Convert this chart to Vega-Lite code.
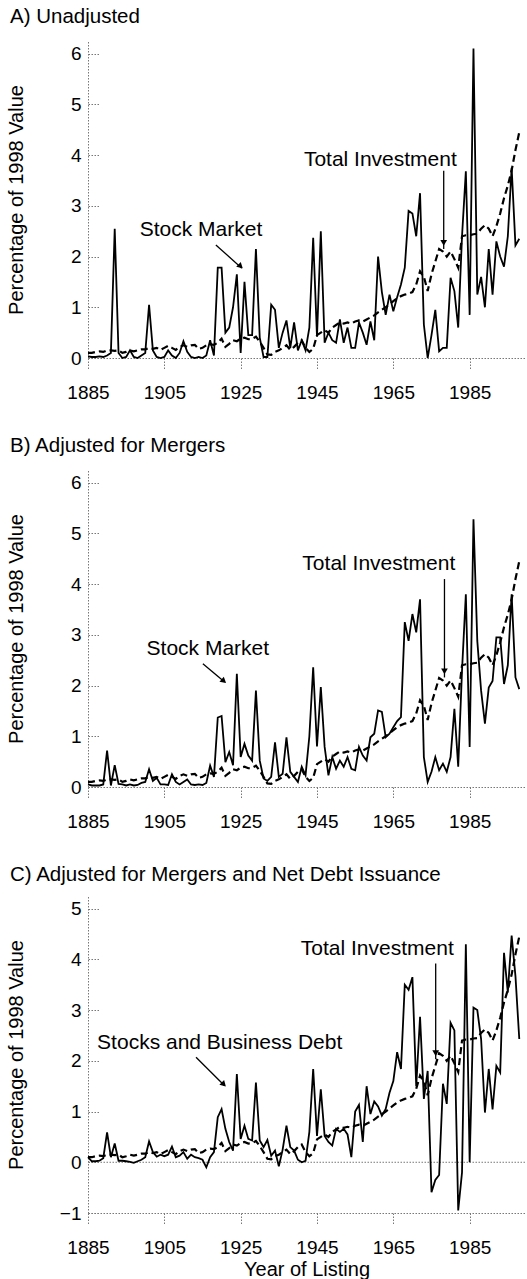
{
  "$schema": "https://vega.github.io/schema/vega-lite/v6.json",
  "padding": {"left": 6, "top": 6, "right": 0, "bottom": 0},
  "spacing": 33,
  "config": {
    "view": {"stroke": null},
    "font": "Liberation Sans",
    "axis": {"grid": false, "labelFont": "Liberation Sans", "labelFontSize": 19, "labelColor": "#000", "titleFont": "Liberation Sans", "titleFontSize": 20, "titleFontWeight": "normal", "titleColor": "#000", "domainColor": "#777", "domainDash": [1.5, 1.5], "tickColor": "#777", "tickDash": [1.5, 1.5], "domainWidth": 1, "tickWidth": 1},
    "title": {"font": "Liberation Sans", "fontSize": 20.5, "fontWeight": "normal", "anchor": "start", "frame": "group", "dx": -78, "color": "#000", "offset": 14}
  },
  "data": {"values": [
    {"year":1885,"inv":0.10,"a":0.03,"b":0.05,"c":0.10},
    {"year":1886,"inv":0.10,"a":0.02,"b":0.03,"c":0.02},
    {"year":1887,"inv":0.12,"a":0.02,"b":0.03,"c":0.02},
    {"year":1888,"inv":0.13,"a":0.03,"b":0.03,"c":0.03},
    {"year":1889,"inv":0.12,"a":0.02,"b":0.05,"c":0.08},
    {"year":1890,"inv":0.15,"a":0.05,"b":0.72,"c":0.59},
    {"year":1891,"inv":0.15,"a":0.10,"b":0.03,"c":0.10},
    {"year":1892,"inv":0.14,"a":2.55,"b":0.43,"c":0.37},
    {"year":1893,"inv":0.15,"a":0.10,"b":0.06,"c":0.03},
    {"year":1894,"inv":0.10,"a":0.00,"b":0.05,"c":0.03},
    {"year":1895,"inv":0.12,"a":0.02,"b":0.03,"c":0.02},
    {"year":1896,"inv":0.15,"a":0.15,"b":0.05,"c":0.01},
    {"year":1897,"inv":0.13,"a":0.02,"b":0.03,"c":-0.01},
    {"year":1898,"inv":0.15,"a":0.00,"b":0.04,"c":0.02},
    {"year":1899,"inv":0.17,"a":0.05,"b":0.08,"c":0.05},
    {"year":1900,"inv":0.17,"a":0.10,"b":0.10,"c":0.10},
    {"year":1901,"inv":0.20,"a":1.05,"b":0.35,"c":0.41},
    {"year":1902,"inv":0.18,"a":0.15,"b":0.12,"c":0.20},
    {"year":1903,"inv":0.20,"a":0.02,"b":0.18,"c":0.11},
    {"year":1904,"inv":0.16,"a":0.00,"b":0.05,"c":0.15},
    {"year":1905,"inv":0.20,"a":0.02,"b":0.05,"c":0.12},
    {"year":1906,"inv":0.24,"a":0.15,"b":0.04,"c":0.15},
    {"year":1907,"inv":0.20,"a":0.05,"b":0.25,"c":0.31},
    {"year":1908,"inv":0.16,"a":0.00,"b":0.10,"c":0.10},
    {"year":1909,"inv":0.22,"a":0.10,"b":0.05,"c":0.13},
    {"year":1910,"inv":0.25,"a":0.33,"b":0.10,"c":0.20},
    {"year":1911,"inv":0.22,"a":0.12,"b":0.15,"c":0.07},
    {"year":1912,"inv":0.25,"a":0.02,"b":0.05,"c":0.15},
    {"year":1913,"inv":0.26,"a":0.00,"b":0.04,"c":0.10},
    {"year":1914,"inv":0.18,"a":0.02,"b":0.05,"c":0.08},
    {"year":1915,"inv":0.20,"a":0.00,"b":0.04,"c":0.05},
    {"year":1916,"inv":0.25,"a":0.05,"b":0.08,"c":-0.10},
    {"year":1917,"inv":0.27,"a":0.35,"b":0.42,"c":0.10},
    {"year":1918,"inv":0.26,"a":0.05,"b":0.20,"c":0.20},
    {"year":1919,"inv":0.30,"a":1.78,"b":1.37,"c":0.89},
    {"year":1920,"inv":0.38,"a":1.78,"b":1.40,"c":1.05},
    {"year":1921,"inv":0.22,"a":0.50,"b":0.49,"c":0.66},
    {"year":1922,"inv":0.28,"a":0.60,"b":0.69,"c":0.40},
    {"year":1923,"inv":0.35,"a":1.00,"b":0.43,"c":0.23},
    {"year":1924,"inv":0.33,"a":1.65,"b":2.23,"c":1.74},
    {"year":1925,"inv":0.38,"a":0.10,"b":0.59,"c":0.46},
    {"year":1926,"inv":0.40,"a":1.50,"b":0.85,"c":0.72},
    {"year":1927,"inv":0.37,"a":0.45,"b":0.62,"c":0.46},
    {"year":1928,"inv":0.38,"a":0.45,"b":0.52,"c":0.43},
    {"year":1929,"inv":0.42,"a":2.15,"b":1.90,"c":1.57},
    {"year":1930,"inv":0.32,"a":0.40,"b":0.52,"c":0.43},
    {"year":1931,"inv":0.20,"a":0.02,"b":0.17,"c":0.30},
    {"year":1932,"inv":0.07,"a":0.02,"b":0.12,"c":0.44},
    {"year":1933,"inv":0.06,"a":1.05,"b":0.20,"c":0.13},
    {"year":1934,"inv":0.12,"a":0.95,"b":0.88,"c":0.23},
    {"year":1935,"inv":0.15,"a":0.20,"b":0.20,"c":-0.08},
    {"year":1936,"inv":0.20,"a":0.50,"b":0.26,"c":0.25},
    {"year":1937,"inv":0.25,"a":0.74,"b":0.98,"c":0.72},
    {"year":1938,"inv":0.16,"a":0.20,"b":0.30,"c":0.30},
    {"year":1939,"inv":0.22,"a":0.70,"b":0.20,"c":0.23},
    {"year":1940,"inv":0.30,"a":0.15,"b":0.10,"c":0.05},
    {"year":1941,"inv":0.35,"a":0.35,"b":0.40,"c":0.00},
    {"year":1942,"inv":0.20,"a":0.15,"b":0.23,"c":0.03},
    {"year":1943,"inv":0.12,"a":0.60,"b":1.00,"c":0.60},
    {"year":1944,"inv":0.18,"a":2.37,"b":2.36,"c":1.84},
    {"year":1945,"inv":0.45,"a":0.42,"b":0.80,"c":0.52},
    {"year":1946,"inv":0.50,"a":2.50,"b":1.97,"c":1.44},
    {"year":1947,"inv":0.55,"a":0.30,"b":0.79,"c":0.52},
    {"year":1948,"inv":0.50,"a":0.50,"b":0.23,"c":0.40},
    {"year":1949,"inv":0.60,"a":0.35,"b":0.59,"c":0.33},
    {"year":1950,"inv":0.65,"a":0.30,"b":0.36,"c":0.66},
    {"year":1951,"inv":0.70,"a":0.76,"b":0.52,"c":0.60},
    {"year":1952,"inv":0.68,"a":0.30,"b":0.40,"c":0.66},
    {"year":1953,"inv":0.70,"a":0.60,"b":0.59,"c":0.55},
    {"year":1954,"inv":0.68,"a":0.20,"b":0.36,"c":0.10},
    {"year":1955,"inv":0.72,"a":0.20,"b":0.33,"c":1.00},
    {"year":1956,"inv":0.74,"a":0.70,"b":0.79,"c":1.13},
    {"year":1957,"inv":0.72,"a":0.50,"b":0.62,"c":0.40},
    {"year":1958,"inv":0.76,"a":0.26,"b":0.52,"c":1.50},
    {"year":1959,"inv":0.80,"a":0.72,"b":0.98,"c":0.95},
    {"year":1960,"inv":0.84,"a":0.35,"b":1.05,"c":1.20},
    {"year":1961,"inv":0.90,"a":2.00,"b":1.51,"c":1.10},
    {"year":1962,"inv":0.95,"a":1.30,"b":1.48,"c":0.92},
    {"year":1963,"inv":1.00,"a":0.85,"b":0.98,"c":1.05},
    {"year":1964,"inv":1.06,"a":1.25,"b":1.05,"c":1.37},
    {"year":1965,"inv":1.12,"a":0.92,"b":1.18,"c":1.60},
    {"year":1966,"inv":1.18,"a":1.20,"b":1.30,"c":2.17},
    {"year":1967,"inv":1.22,"a":1.45,"b":1.38,"c":1.84},
    {"year":1968,"inv":1.25,"a":1.78,"b":3.25,"c":3.50},
    {"year":1969,"inv":1.27,"a":2.90,"b":2.88,"c":3.40},
    {"year":1970,"inv":1.30,"a":2.85,"b":3.41,"c":3.65},
    {"year":1971,"inv":1.45,"a":2.40,"b":3.05,"c":1.50},
    {"year":1972,"inv":1.71,"a":3.25,"b":3.70,"c":2.87},
    {"year":1973,"inv":1.60,"a":0.66,"b":0.59,"c":1.25},
    {"year":1974,"inv":1.32,"a":0.00,"b":0.10,"c":1.80},
    {"year":1975,"inv":1.65,"a":0.45,"b":0.30,"c":-0.59},
    {"year":1976,"inv":1.90,"a":0.95,"b":0.59,"c":-0.35},
    {"year":1977,"inv":2.15,"a":0.13,"b":0.33,"c":-0.25},
    {"year":1978,"inv":2.10,"a":0.20,"b":0.46,"c":1.55},
    {"year":1979,"inv":2.00,"a":0.20,"b":0.30,"c":1.15},
    {"year":1980,"inv":2.10,"a":1.58,"b":0.59,"c":2.75},
    {"year":1981,"inv":1.95,"a":1.32,"b":1.54,"c":2.60},
    {"year":1982,"inv":1.78,"a":0.60,"b":0.40,"c":-0.95},
    {"year":1983,"inv":2.40,"a":2.40,"b":2.30,"c":-0.20},
    {"year":1984,"inv":2.42,"a":3.68,"b":3.80,"c":4.30},
    {"year":1985,"inv":2.42,"a":0.85,"b":0.79,"c":0.00},
    {"year":1986,"inv":2.44,"a":6.10,"b":5.28,"c":3.05},
    {"year":1987,"inv":2.45,"a":1.25,"b":2.88,"c":3.00},
    {"year":1988,"inv":2.55,"a":1.60,"b":1.90,"c":2.43},
    {"year":1989,"inv":2.62,"a":1.00,"b":1.25,"c":0.98},
    {"year":1990,"inv":2.55,"a":2.15,"b":1.96,"c":1.84},
    {"year":1991,"inv":2.40,"a":1.25,"b":2.09,"c":1.04},
    {"year":1992,"inv":2.60,"a":2.30,"b":2.95,"c":1.90},
    {"year":1993,"inv":2.85,"a":2.00,"b":2.95,"c":1.77},
    {"year":1994,"inv":3.15,"a":1.80,"b":2.03,"c":4.13},
    {"year":1995,"inv":3.40,"a":2.40,"b":2.40,"c":3.35},
    {"year":1996,"inv":3.70,"a":3.75,"b":3.80,"c":4.47},
    {"year":1997,"inv":4.10,"a":2.22,"b":2.16,"c":3.67},
    {"year":1998,"inv":4.45,"a":2.35,"b":1.93,"c":2.43}
  ]},
  "vconcat": [
    {
      "title": {"text": "A) Unadjusted"},
      "width": 437, "height": 317,
      "layer": [
        {"mark": {"type": "line", "color": "#000", "strokeWidth": 1.8},
         "encoding": {
           "x": {"field": "year", "type": "quantitative", "title": null, "scale": {"domain": [1885, 1999.5], "nice": false, "zero": false},
                 "axis": {"values": [1885,1895,1905,1915,1925,1935,1945,1955,1965,1975,1985,1995], "format": "d", "labelExpr": "(datum.value - 1885) % 20 == 0 ? datum.label : ''", "tickSize": 11, "labelPadding": 14, "labelFlush": false, "labelOverlap": false}},
           "y": {"field": "a", "type": "quantitative", "title": "Percentage of 1998 Value", "scale": {"domain": [0, 6.25], "nice": false, "zero": false},
                 "axis": {"values": [0,1,2,3,4,5,6], "tickSize": -11, "labelPadding": 18, "titleX": -62, "labelOverlap": false}}}},
        {"mark": {"type": "line", "color": "#000", "strokeWidth": 2.2, "strokeDash": [7, 4]},
         "encoding": {"x": {"field": "year", "type": "quantitative", "title": null}, "y": {"field": "inv", "type": "quantitative", "title": "Percentage of 1998 Value"}}},
        {"data": {"values": [{"x": 1914.6, "y": 2.53, "label": "Stock Market"}, {"x": 1961.6, "y": 3.91, "label": "Total Investment"}]},
         "mark": {"type": "text", "fontSize": 21, "align": "center", "baseline": "middle", "color": "#000"},
         "encoding": {"x": {"field": "x", "type": "quantitative", "title": null}, "y": {"field": "y", "type": "quantitative", "title": "Percentage of 1998 Value"}, "text": {"field": "label"}}},
        {"data": {"values": [{"x": 1918.5, "y": 2.23, "x2": 1925.3, "y2": 1.77}, {"x": 1978.2, "y": 3.69, "x2": 1978.2, "y2": 2.15}]},
         "mark": {"type": "rule", "color": "#000", "strokeWidth": 1.3},
         "encoding": {"x": {"field": "x", "type": "quantitative", "title": null}, "y": {"field": "y", "type": "quantitative", "title": "Percentage of 1998 Value"}, "x2": {"field": "x2"}, "y2": {"field": "y2"}}},
        {"data": {"values": [{"x": 1924.8, "y": 1.82}]},
         "mark": {"type": "point", "shape": "triangle", "angle": 133, "filled": true, "color": "#000", "opacity": 1, "size": 45},
         "encoding": {"x": {"field": "x", "type": "quantitative", "title": null}, "y": {"field": "y", "type": "quantitative", "title": "Percentage of 1998 Value"}}},
        {"data": {"values": [{"x": 1978.2, "y": 2.27}]},
         "mark": {"type": "point", "shape": "triangle-down", "filled": true, "color": "#000", "opacity": 1, "size": 45},
         "encoding": {"x": {"field": "x", "type": "quantitative", "title": null}, "y": {"field": "y", "type": "quantitative", "title": "Percentage of 1998 Value"}}}
      ]
    },
    {
      "title": {"text": "B) Adjusted for Mergers"},
      "width": 437, "height": 317,
      "layer": [
        {"mark": {"type": "line", "color": "#000", "strokeWidth": 1.8},
         "encoding": {
           "x": {"field": "year", "type": "quantitative", "title": null, "scale": {"domain": [1885, 1999.5], "nice": false, "zero": false},
                 "axis": {"values": [1885,1895,1905,1915,1925,1935,1945,1955,1965,1975,1985,1995], "format": "d", "labelExpr": "(datum.value - 1885) % 20 == 0 ? datum.label : ''", "tickSize": 11, "labelPadding": 14, "labelFlush": false, "labelOverlap": false}},
           "y": {"field": "b", "type": "quantitative", "title": "Percentage of 1998 Value", "scale": {"domain": [0, 6.25], "nice": false, "zero": false},
                 "axis": {"values": [0,1,2,3,4,5,6], "tickSize": -11, "labelPadding": 18, "titleX": -62, "labelOverlap": false}}}},
        {"mark": {"type": "line", "color": "#000", "strokeWidth": 2.2, "strokeDash": [7, 4]},
         "encoding": {"x": {"field": "year", "type": "quantitative", "title": null}, "y": {"field": "inv", "type": "quantitative", "title": "Percentage of 1998 Value"}}},
        {"data": {"values": [{"x": 1916.4, "y": 2.73, "label": "Stock Market"}, {"x": 1961.2, "y": 4.4, "label": "Total Investment"}]},
         "mark": {"type": "text", "fontSize": 21, "align": "center", "baseline": "middle", "color": "#000"},
         "encoding": {"x": {"field": "x", "type": "quantitative", "title": null}, "y": {"field": "y", "type": "quantitative", "title": "Percentage of 1998 Value"}, "text": {"field": "label"}}},
        {"data": {"values": [{"x": 1915.1, "y": 2.43, "x2": 1920.8, "y2": 2.07}, {"x": 1978.4, "y": 4.1, "x2": 1978.4, "y2": 2.16}]},
         "mark": {"type": "rule", "color": "#000", "strokeWidth": 1.3},
         "encoding": {"x": {"field": "x", "type": "quantitative", "title": null}, "y": {"field": "y", "type": "quantitative", "title": "Percentage of 1998 Value"}, "x2": {"field": "x2"}, "y2": {"field": "y2"}}},
        {"data": {"values": [{"x": 1920.4, "y": 2.1}]},
         "mark": {"type": "point", "shape": "triangle", "angle": 130, "filled": true, "color": "#000", "opacity": 1, "size": 45},
         "encoding": {"x": {"field": "x", "type": "quantitative", "title": null}, "y": {"field": "y", "type": "quantitative", "title": "Percentage of 1998 Value"}}},
        {"data": {"values": [{"x": 1978.4, "y": 2.28}]},
         "mark": {"type": "point", "shape": "triangle-down", "filled": true, "color": "#000", "opacity": 1, "size": 45},
         "encoding": {"x": {"field": "x", "type": "quantitative", "title": null}, "y": {"field": "y", "type": "quantitative", "title": "Percentage of 1998 Value"}}}
      ]
    },
    {
      "title": {"text": "C) Adjusted for Mergers and Net Debt Issuance", "offset": 11},
      "width": 437, "height": 317,
      "layer": [
        {"data": {"values": [{"y": 0}]},
         "mark": {"type": "rule", "color": "#777", "strokeWidth": 1, "strokeDash": [1.5, 1.5]},
         "encoding": {"y": {"field": "y", "type": "quantitative", "title": "Percentage of 1998 Value"}}},
        {"mark": {"type": "line", "color": "#000", "strokeWidth": 1.8},
         "encoding": {
           "x": {"field": "year", "type": "quantitative", "title": "Year of Listing", "scale": {"domain": [1885, 1999.5], "nice": false, "zero": false},
                 "axis": {"values": [1885,1895,1905,1915,1925,1935,1945,1955,1965,1975,1985,1995], "format": "d", "labelExpr": "(datum.value - 1885) % 20 == 0 ? datum.label : ''", "tickSize": 11, "labelPadding": 14, "labelFlush": false, "labelOverlap": false, "titlePadding": 2}},
           "y": {"field": "c", "type": "quantitative", "title": "Percentage of 1998 Value", "scale": {"domain": [-1, 5.25], "nice": false, "zero": false},
                 "axis": {"values": [-1,0,1,2,3,4,5], "tickSize": -11, "labelPadding": 18, "titleX": -62, "labelOverlap": false}}}},
        {"mark": {"type": "line", "color": "#000", "strokeWidth": 2.2, "strokeDash": [7, 4]},
         "encoding": {"x": {"field": "year", "type": "quantitative", "title": "Year of Listing"}, "y": {"field": "inv", "type": "quantitative", "title": "Percentage of 1998 Value"}}},
        {"data": {"values": [{"x": 1919.5, "y": 2.35, "label": "Stocks and Business Debt"}, {"x": 1960.8, "y": 4.2, "label": "Total Investment"}]},
         "mark": {"type": "text", "fontSize": 21, "align": "center", "baseline": "middle", "color": "#000"},
         "encoding": {"x": {"field": "x", "type": "quantitative", "title": "Year of Listing"}, "y": {"field": "y", "type": "quantitative", "title": "Percentage of 1998 Value"}, "text": {"field": "label"}}},
        {"data": {"values": [{"x": 1913.3, "y": 2.07, "x2": 1920.8, "y2": 1.51}, {"x": 1976.1, "y": 3.92, "x2": 1976.1, "y2": 2.03}]},
         "mark": {"type": "rule", "color": "#000", "strokeWidth": 1.3},
         "encoding": {"x": {"field": "x", "type": "quantitative", "title": "Year of Listing"}, "y": {"field": "y", "type": "quantitative", "title": "Percentage of 1998 Value"}, "x2": {"field": "x2"}, "y2": {"field": "y2"}}},
        {"data": {"values": [{"x": 1920.4, "y": 1.55}]},
         "mark": {"type": "point", "shape": "triangle", "angle": 135, "filled": true, "color": "#000", "opacity": 1, "size": 45},
         "encoding": {"x": {"field": "x", "type": "quantitative", "title": "Year of Listing"}, "y": {"field": "y", "type": "quantitative", "title": "Percentage of 1998 Value"}}},
        {"data": {"values": [{"x": 1976.1, "y": 2.15}]},
         "mark": {"type": "point", "shape": "triangle-down", "filled": true, "color": "#000", "opacity": 1, "size": 45},
         "encoding": {"x": {"field": "x", "type": "quantitative", "title": "Year of Listing"}, "y": {"field": "y", "type": "quantitative", "title": "Percentage of 1998 Value"}}}
      ]
    }
  ]
}
